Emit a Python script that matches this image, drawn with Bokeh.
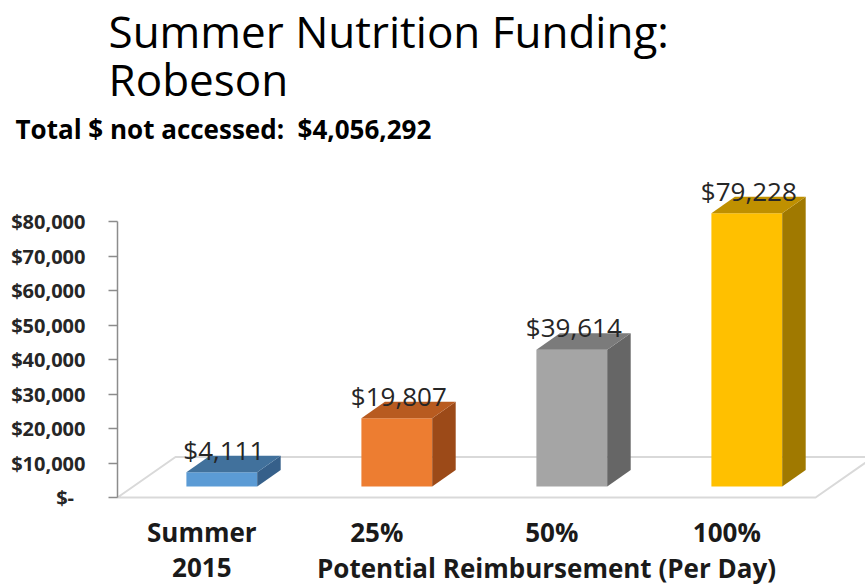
from bokeh.plotting import figure
from bokeh.models import Range1d, FixedTicker, NumeralTickFormatter, Label
from bokeh.embed import file_html
from bokeh.resources import INLINE
from bokeh.core.properties import value

# ---------------- data ----------------
categories = ["Summer\n2015", "25%", "50%", "100%"]
amounts = [4111, 19807, 39614, 79228]
y_ticks = [0, 10000, 20000, 30000, 40000, 50000, 60000, 70000, 80000]
title_lines = ["Summer Nutrition Funding:", "Robeson"]
subtitle = "Total $ not accessed:\u00a0 $4,056,292"
x_title = "Potential Reimbursement (Per Day)"

front_colors = ["#5B9BD5", "#ED7D31", "#A5A5A5", "#FFC000"]
top_colors = ["#41719C", "#B85B20", "#7B7B7B", "#BF9000"]
side_colors = ["#36608A", "#9C4A18", "#666666", "#A07900"]

# ---------------- layout constants (pixel geometry of the 3-D view) ----------------
W, H = 865, 586
AXIS_PX = 117
X0_PX = 221.3          # pixel of first category centre
PX_PER_CAT = 175.0
Y0_PX = 497.0          # pixel of value 0 on the axis
PX_PER_VAL = 276.0 / 80000


def xd(px):
    return (px - X0_PX) / PX_PER_CAT


def yd(py):
    return (Y0_PX - py) / PX_PER_VAL


half_w = 35.4 / PX_PER_CAT
ddx = 23.5 / PX_PER_CAT
ddy = 16.5 / PX_PER_VAL
base = 11.0 / PX_PER_VAL
fdx = 58.0 / PX_PER_CAT
fdy = 40.5 / PX_PER_VAL

p = figure(width=W, height=H, x_range=Range1d(xd(0), xd(W)), y_range=Range1d(yd(H), yd(0)),
           output_backend="svg", toolbar_location=None, x_axis_location=None,
           min_border_left=0, min_border_right=0, min_border_top=0, min_border_bottom=0)
p.grid.visible = False
p.outline_line_color = None
p.background_fill_color = "white"
p.border_fill_color = "white"

ax = p.yaxis[0]
ax.fixed_location = xd(AXIS_PX)
ax.ticker = FixedTicker(ticks=y_ticks)
ax.formatter = NumeralTickFormatter(format="$0,0")
ax.major_label_overrides = {0: "$-\u2007"}
ax.bounds = (y_ticks[0], y_ticks[-1])
ax.axis_line_color = "#8C8C8C"
ax.axis_line_width = 1.5
ax.major_tick_line_color = "#8C8C8C"
ax.major_tick_line_width = 1.5
ax.major_tick_out = 9
ax.major_tick_in = 0
ax.minor_tick_out = 0
ax.minor_tick_in = 0
ax.major_label_standoff = 23
ax.major_label_text_font = "Open Sans"
ax.major_label_text_font_size = "20px"
ax.major_label_text_font_style = "bold"
ax.major_label_text_color = "#262626"

# floor
n = len(categories)
fl = xd(AXIS_PX)
fr = (n - 1) + 0.393
p.patch([fl, fr, fr + fdx, fl + fdx], [0, 0, fdy, fdy],
        fill_color=None, line_color="#D9D9D9", line_width=2)

# 3-D bars
fx, fy, tx, ty, sx, sy = [], [], [], [], [], []
for i, v in enumerate(amounts):
    xl, xr = i - half_w, i + half_w
    b, t = base, base + v
    fx.append([xl, xr, xr, xl]); fy.append([b, b, t, t])
    tx.append([xl, xr, xr + ddx, xl + ddx]); ty.append([t, t, t + ddy, t + ddy])
    sx.append([xr, xr + ddx, xr + ddx, xr]); sy.append([b, b + ddy, t + ddy, t])
p.patches(fx, fy, fill_color=front_colors, line_color=None)
p.patches(sx, sy, fill_color=side_colors, line_color=None)
p.patches(tx, ty, fill_color=top_colors, line_color=None)

# value labels
idx = list(range(n))
p.text(x=[i + 2 / PX_PER_CAT for i in idx], y=[base + v + ddy for v in amounts],
       text=[f"${v:,}" for v in amounts], text_align="center", text_baseline="middle",
       y_offset=-6, text_font=value("Open Sans"), text_font_size="26px", text_color="#262626")

# category labels
line1 = [c.split("\n")[0] for c in categories]
p.text(x=idx, y=[yd(531)] * n, text=line1, x_offset=-20, text_align="center",
       text_baseline="middle", text_font=value("Open Sans"), text_font_size="26px",
       text_font_style="bold", text_color="#1a1a1a")
l2x = [i for i, c in enumerate(categories) if "\n" in c]
l2t = [c.split("\n")[1] for c in categories if "\n" in c]
p.text(x=l2x, y=[yd(567)] * len(l2x), text=l2t, x_offset=-20, text_align="center",
       text_baseline="middle", text_font=value("Open Sans"), text_font_size="26px",
       text_font_style="bold", text_color="#1a1a1a")

p.add_layout(Label(x=xd(546), y=yd(567), text=x_title, text_align="center",
                   text_baseline="middle", text_font="Open Sans", text_font_size="26px",
                   text_font_style="bold", text_color="#1a1a1a"))

# titles
p.add_layout(Label(x=xd(108), y=yd(30), text=title_lines[0], text_font="Open Sans",
                   text_font_size="44px", text_baseline="middle", text_color="black"))
p.add_layout(Label(x=xd(108), y=yd(78), text=title_lines[1], text_font="Open Sans",
                   text_font_size="44px", text_baseline="middle", text_color="black"))
p.add_layout(Label(x=xd(15), y=yd(128), text=subtitle, text_font="Open Sans",
                   text_font_size="26px", text_font_style="bold", text_baseline="middle",
                   text_color="black"))

open("out.html", "w").write(file_html(p, INLINE))
